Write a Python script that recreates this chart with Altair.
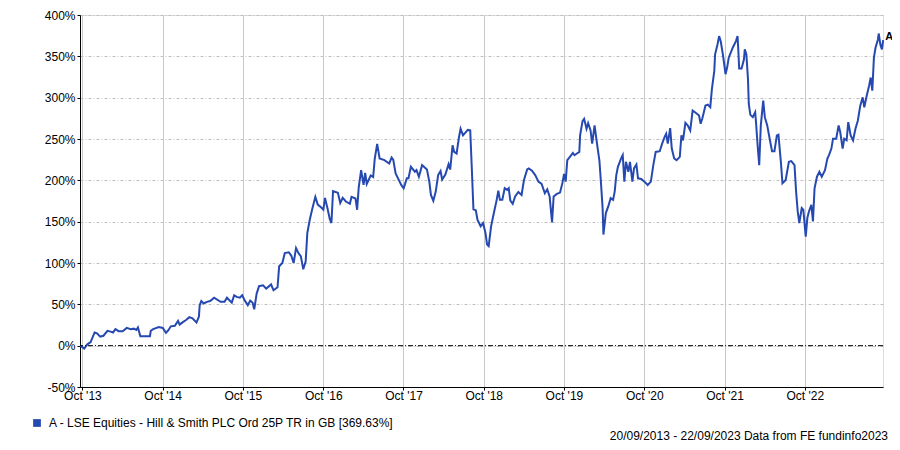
import altair as alt
import pandas as pd

# decimal-year positions of the trace and cumulative total return (%)
years = [
    2013.72, 2013.77, 2013.81, 2013.85, 2013.90, 2013.93, 2013.97, 2014.01, 2014.06, 2014.10,
    2014.13, 2014.16, 2014.20, 2014.25, 2014.30, 2014.35, 2014.39, 2014.42, 2014.44, 2014.47,
    2014.51, 2014.59, 2014.60, 2014.63, 2014.70, 2014.75, 2014.79, 2014.82, 2014.85, 2014.90,
    2014.94, 2014.96, 2015.00, 2015.04, 2015.08, 2015.12, 2015.17, 2015.20, 2015.21, 2015.23,
    2015.26, 2015.30, 2015.34, 2015.39,
    2015.47, 2015.52, 2015.55, 2015.61, 2015.64, 2015.67, 2015.71, 2015.74, 2015.77, 2015.81,
    2015.84, 2015.87, 2015.89, 2015.92, 2015.95, 2016.00, 2016.04, 2016.10, 2016.13, 2016.18,
    2016.20, 2016.24, 2016.27, 2016.32, 2016.35, 2016.38, 2016.41, 2016.44, 2016.47, 2016.50,
    2016.53, 2016.55, 2016.58, 2016.61, 2016.65, 2016.68, 2016.72, 2016.75, 2016.77, 2016.80,
    2016.83, 2016.85, 2016.87, 2016.93, 2016.96, 2016.99, 2017.03,
    2017.08, 2017.10, 2017.15, 2017.17, 2017.19, 2017.22, 2017.25, 2017.27, 2017.29, 2017.34,
    2017.37, 2017.39, 2017.42, 2017.45, 2017.51, 2017.57, 2017.60, 2017.62, 2017.65, 2017.68,
    2017.72, 2017.75, 2017.79, 2017.81, 2017.84, 2017.89, 2017.91, 2017.94, 2017.98, 2018.04,
    2018.07, 2018.09, 2018.12, 2018.15, 2018.18, 2018.21, 2018.23, 2018.27, 2018.31, 2018.33,
    2018.36, 2018.38, 2018.41, 2018.44, 2018.46, 2018.49, 2018.55, 2018.58, 2018.60, 2018.62,
    2018.65, 2018.67,
    2018.69, 2018.71, 2018.74, 2018.77, 2018.79, 2018.81, 2018.84, 2018.87, 2018.91, 2018.93,
    2018.95, 2018.98, 2019.01, 2019.04, 2019.06, 2019.08, 2019.11, 2019.14, 2019.18, 2019.22,
    2019.25, 2019.29, 2019.31, 2019.35, 2019.39, 2019.43, 2019.47, 2019.51, 2019.54, 2019.57,
    2019.60, 2019.62, 2019.66, 2019.70, 2019.73, 2019.75, 2019.77, 2019.79, 2019.83, 2019.86,
    2019.88, 2019.91, 2019.94, 2019.95, 2019.98, 2020.00, 2020.03, 2020.05, 2020.08, 2020.10,
    2020.13, 2020.16,
    2020.19, 2020.21, 2020.23, 2020.24, 2020.27, 2020.30, 2020.33, 2020.36, 2020.38, 2020.40,
    2020.42, 2020.46, 2020.48, 2020.50, 2020.52, 2020.55, 2020.57, 2020.60, 2020.62, 2020.65,
    2020.67, 2020.71, 2020.75, 2020.79, 2020.83, 2020.86, 2020.89, 2020.94, 2020.97, 2021.00,
    2021.02, 2021.04, 2021.07, 2021.09, 2021.12, 2021.15, 2021.19, 2021.21, 2021.23, 2021.26,
    2021.29, 2021.32, 2021.35, 2021.38, 2021.43, 2021.45, 2021.47, 2021.51, 2021.54, 2021.57,
    2021.59, 2021.62, 2021.63, 2021.66, 2021.68, 2021.70, 2021.73, 2021.76, 2021.78,
    2021.80, 2021.85, 2021.89, 2021.91, 2021.92, 2021.93, 2021.96, 2021.99, 2022.00, 2022.02,
    2022.04, 2022.05, 2022.07, 2022.10, 2022.13, 2022.14, 2022.16, 2022.18, 2022.20, 2022.23,
    2022.25, 2022.28, 2022.31, 2022.34, 2022.37, 2022.40, 2022.42, 2022.45, 2022.47, 2022.51,
    2022.55, 2022.58, 2022.62, 2022.64, 2022.66, 2022.68, 2022.71, 2022.73, 2022.76, 2022.78,
    2022.80, 2022.83, 2022.85, 2022.87, 2022.90, 2022.93, 2022.96, 2023.00, 2023.03, 2023.05,
    2023.08, 2023.10, 2023.14, 2023.17, 2023.19, 2023.22, 2023.24, 2023.27, 2023.29, 2023.32,
    2023.35, 2023.38, 2023.41, 2023.44, 2023.47, 2023.49, 2023.52, 2023.55, 2023.57, 2023.59,
    2023.61, 2023.63, 2023.66, 2023.67, 2023.69, 2023.71, 2023.725,
]

returns = [
    0, -3.5, 1.6, 4.4, 16, 15, 11, 12, 18, 17,
    16, 20, 17.5, 17.5, 21.5, 20, 20.6, 19, 22, 11.5,
    11.5, 11.5, 18, 20, 22.6, 21.4, 15.5, 18.7, 23.4, 24,
    30, 25.5, 28.5, 31, 34.5, 33, 28, 35, 49, 54,
    51, 53, 54, 58,
    53, 53, 58, 52, 61, 59, 58, 61, 55, 49,
    54.5, 52, 44, 63, 72, 73, 69, 74, 67, 70.6,
    96, 100, 112, 113, 109, 100, 118, 112, 108, 92.5,
    102, 136, 152, 164.6, 180, 170.7, 167.5, 164.6, 178.8, 166.6,
    153, 148.4, 187, 185, 172.7, 178.8, 174.4,
    171.6, 180, 178, 164.4, 191.6, 212.4, 194.4, 209, 195.6, 206,
    204, 226.4, 244, 226.4, 224.4, 220.4, 227.6, 225, 208.4, 202.4,
    194.4, 190.4, 202.4, 202.4, 216.4, 210.4, 212.4, 204.4, 218.4, 213.2,
    198.4, 182.4, 175.2, 186.4, 206.4, 211.2, 201, 207, 219.6, 213,
    242.4, 234.4, 232.4, 252.4, 262.4, 254.4, 261, 260.4, 214, 165,
    163.6, 152.4,
    148.4, 144.4, 148.4, 136.4, 122.4, 120.4, 144.4, 158.4, 176.4, 187.6,
    176.4, 176.4, 190.4, 188.4, 190.4, 175.6, 171.6, 180.4, 186, 182.4,
    200.4, 213.2, 214.4, 211.6, 206.4, 198.4, 195.6, 184.4, 189, 180.4,
    149.2, 180.4, 183.6, 185.2, 197.2, 207.6, 198.4, 224.4, 229.2, 233.2,
    230.4, 232.4, 234.4, 254.4, 271.6, 274.4, 262.4, 269.2, 260.4, 244.4,
    266.4, 244.4,
    224, 196, 166, 134.4, 160.4, 168.4, 178.4, 176.4, 186.4, 206.4,
    216.4, 226.4, 230.4, 198.4, 222.4, 210.4, 222.4, 198.4, 214.4, 219.2,
    202.4, 201.6, 198.4, 194.4, 198.4, 218.4, 234.4, 235.2, 244.4, 252.4,
    256.4, 244.4, 263.2, 238.4, 226.4, 224.4, 228.4, 254.4, 248.4, 269.6,
    266.4, 260.4, 284.4, 282.4, 278.4, 268.4, 274.4, 290.4, 291.6, 288.4,
    310.4, 332.4, 352.4, 364.4, 374.4, 368.4, 350.4, 328.4, 336.4,
    348.4, 360.4, 368.4, 374.4, 356.4, 335.2, 335.2, 346.4, 358.4, 352.4,
    322.4, 292.4, 279.2, 276.4, 282.4, 270.4, 242.4, 218.4, 266.4, 296.4,
    276.4, 266.4, 250.4, 235.2, 235.2, 254.4, 255.2, 222.4, 196.4, 200.4,
    222.4, 223.2, 218.4, 186.4, 162.4, 148.4, 166.4, 164.4, 132, 154.4,
    162.4, 170.4, 150.4, 190.4, 204.4, 210.4, 204.4, 212.4, 226.4, 230.4,
    238.4, 250.4, 250.4, 266.4, 258.4, 238.4, 250.4, 248.4, 270.4, 254.4,
    248.4, 262.4, 272.4, 290.4, 300.4, 288.4, 302.4, 314.4, 324.4, 308.4,
    348.4, 360.4, 370.4, 377.6, 364.4, 358.4, 369.63,
]

series_name = "A - LSE Equities - Hill & Smith PLC Ord 25P TR in GB [369.63%]"
series_tag = "A"
footer_text = "20/09/2013 - 22/09/2023 Data from FE fundinfo2023"
tick_years = list(range(2013, 2023))
y_ticks = list(range(-50, 401, 50))


def to_ts(t):
    y = int(t)
    start = pd.Timestamp(year=y, month=1, day=1)
    days = (pd.Timestamp(year=y + 1, month=1, day=1) - start).days
    return start + pd.Timedelta(days=(t - y) * days)


df = pd.DataFrame({
    "date": [to_ts(t) for t in years],
    "ret": returns,
    "series": series_name,
})
last = df.tail(1).assign(tag=series_tag)

W, H = 803, 372
BLUE = "#2549B0"
FONT = "Liberation Sans"
FS = 12

x_enc = alt.X(
    "date:T",
    scale=alt.Scale(domain=[alt.DateTime(year=2013, month=9, date=20),
                            alt.DateTime(year=2023, month=9, date=22)]),
    axis=alt.Axis(
        values=[alt.DateTime(year=y, month=10, date=1) for y in tick_years],
        format="%b '%y", title=None, grid=True, gridColor="#c8c8c8",
        domainColor="#000000", tickColor="#000000", tickSize=3,
        labelFontSize=FS, labelColor="#000000", labelPadding=0,
        labelFont=FONT,
    ),
)
y_enc = alt.Y(
    "ret:Q",
    scale=alt.Scale(domain=[-50, 400], nice=False, zero=False),
    axis=alt.Axis(
        values=y_ticks, labelExpr="datum.value + '%'", title=None,
        grid=True, gridColor="#c0c0c0", gridDash=[3, 2, 1, 2],
        domainColor="#000000", tickColor="#000000", tickSize=3,
        labelFontSize=FS, labelColor="#000000", labelPadding=2,
        labelFont=FONT,
    ),
)

zero = alt.Chart(pd.DataFrame({"v": [0]})).mark_rule(
    color="#000000", strokeWidth=1, strokeDash=[5, 2, 1, 2]
).encode(y=alt.Y("v:Q", scale=alt.Scale(domain=[-50, 400], nice=False, zero=False)))

line = alt.Chart(df).mark_line(strokeWidth=2, interpolate="linear").encode(
    x=x_enc,
    y=y_enc,
    color=alt.Color(
        "series:N",
        scale=alt.Scale(domain=[series_name], range=[BLUE]),
        legend=alt.Legend(
            title=None, orient="none", legendX=-49, legendY=402,
            symbolType="square", symbolSize=60, symbolFillColor=BLUE,
            symbolStrokeWidth=0, labelFontSize=FS, labelColor="#000000",
            labelFont=FONT, labelOffset=6, labelLimit=0,
        ),
    ),
)

tag = alt.Chart(last).mark_text(
    align="left", baseline="middle", dx=2, dy=-3, fontWeight="bold",
    fontSize=11, font=FONT, color="#000000",
).encode(x="date:T", y="ret:Q", text="tag:N")

footer = alt.Chart(pd.DataFrame({"t": [footer_text]})).mark_text(
    align="right", baseline="middle", fontSize=FS, font=FONT, color="#000000",
).encode(x=alt.value(W + 5), y=alt.value(421), text="t:N")

chart = alt.layer(line, zero, tag, footer).properties(
    width=W, height=H,
    autosize="none",
    padding={"left": 72, "top": 7, "right": 9, "bottom": 55},
).configure_view(stroke="#c8c8c8").configure(font=FONT)

chart.save("out.html", embed_options={"renderer": "svg", "actions": False})
